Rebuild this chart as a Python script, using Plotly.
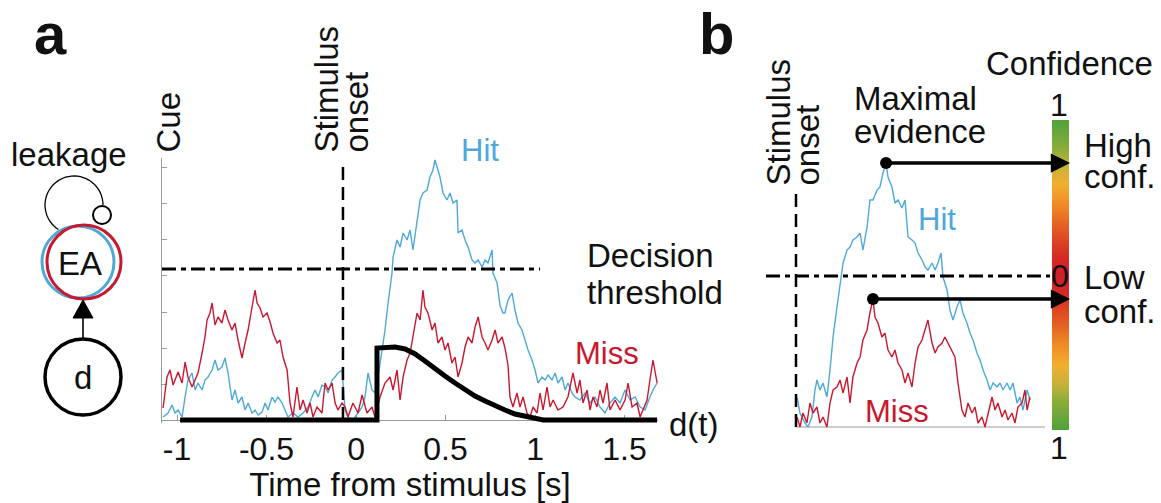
import math
import plotly.graph_objects as go

# ---------------- data ----------------
# Panel a: evidence accumulator traces (time in s, evidence in arbitrary units)
HIT_A_T = [-1.078, -1.050, -1.028, -1.011, -0.994, -0.972, -0.955, -0.939, -0.916, -0.899,
           -0.883, -0.860, -0.844, -0.827, -0.804, -0.788, -0.771, -0.749, -0.732, -0.715,
           -0.693, -0.676, -0.659, -0.637, -0.620, -0.603, -0.581, -0.564, -0.547, -0.525,
           -0.508, -0.492, -0.469, -0.453, -0.436, -0.413, -0.397, -0.380, -0.352, -0.324,
           -0.296, -0.268, -0.246, -0.229, -0.212, -0.190, -0.173, -0.156, -0.134, -0.117,
           -0.101, -0.078, -0.073, -0.061, -0.045, -0.017, 0.011, 0.034, 0.050, 0.067,
           0.089, 0.106, 0.123, 0.145, 0.162, 0.179, 0.201, 0.207, 0.229, 0.246,
           0.263, 0.285, 0.302, 0.318, 0.341, 0.358, 0.374, 0.397, 0.413, 0.430,
           0.441, 0.453, 0.469, 0.486, 0.508, 0.525, 0.542, 0.564, 0.570, 0.592,
           0.609, 0.626, 0.648, 0.665, 0.682, 0.704, 0.721, 0.737, 0.760, 0.765,
           0.788, 0.804, 0.821, 0.832, 0.849, 0.872, 0.888, 0.905, 0.927, 0.944,
           0.961, 0.983, 1.000, 1.017, 1.039, 1.056, 1.073, 1.095, 1.112, 1.128,
           1.151, 1.168, 1.184, 1.207, 1.223, 1.251, 1.279, 1.307, 1.335, 1.363,
           1.391, 1.419, 1.447, 1.475, 1.503, 1.531, 1.559, 1.587, 1.615, 1.642,
           1.659, 1.682]
HIT_A_Y = [3, 7, 15, 7, 10, 3, 23, 40, 47, 30,
           37, 30, 40, 43, 50, 60, 50, 53, 62, 47,
           20, 30, 17, 23, 10, 17, 7, 10, 5, 8,
           17, 10, 23, 18, 23, 17, 10, 3, 7, 3,
           7, 13, 23, 30, 23, 35, 33, 27, 40, 43,
           47, 50, 37, 10, 3, 0, 7, 13, 23, 47,
           30, 27, 43, 70, 90, 117, 147, 163, 180, 173,
           187, 180, 190, 170, 197, 220, 227, 230, 243, 250,
           260, 253, 243, 227, 220, 227, 217, 220, 187, 190,
           180, 173, 160, 157, 160, 153, 160, 157, 170, 147,
           137, 115, 107, 107, 120, 127, 110, 97, 90, 80,
           70, 60, 50, 37, 43, 40, 45, 40, 47, 37,
           43, 30, 37, 27, 23, 20, 27, 17, 23, 13,
           7, 17, 23, 17, 30, 20, 23, 13, 10, 23,
           30, 37]

MISS_A_T = [-1.078, -1.056, -1.039, -1.022, -0.994, -0.972, -0.955, -0.939, -0.916, -0.899,
            -0.883, -0.860, -0.844, -0.832, -0.816, -0.804, -0.788, -0.771, -0.749, -0.732,
            -0.715, -0.693, -0.676, -0.659, -0.637, -0.620, -0.603, -0.581, -0.564, -0.553,
            -0.536, -0.520, -0.497, -0.480, -0.464, -0.441, -0.425, -0.408, -0.385, -0.369,
            -0.352, -0.330, -0.313, -0.296, -0.274, -0.257, -0.240, -0.218, -0.190, -0.173,
            -0.156, -0.134, -0.117, -0.101, -0.078, -0.061, -0.045, -0.017, 0.011, 0.034,
            0.061, 0.089, 0.106, 0.134, 0.162, 0.190, 0.207, 0.229, 0.246, 0.263,
            0.285, 0.302, 0.318, 0.341, 0.358, 0.374, 0.385, 0.402, 0.425, 0.441,
            0.458, 0.480, 0.497, 0.514, 0.536, 0.553, 0.570, 0.592, 0.609, 0.626,
            0.648, 0.665, 0.682, 0.704, 0.721, 0.737, 0.760, 0.777, 0.793, 0.816,
            0.832, 0.849, 0.860, 0.877, 0.899, 0.916, 0.933, 0.955, 0.972, 0.989,
            1.011, 1.028, 1.045, 1.067, 1.084, 1.101, 1.128, 1.156, 1.184, 1.212,
            1.235, 1.251, 1.268, 1.291, 1.307, 1.324, 1.346, 1.363, 1.380, 1.402,
            1.419, 1.447, 1.475, 1.503, 1.520, 1.542, 1.570, 1.587, 1.603, 1.626,
            1.642, 1.659, 1.682]
MISS_A_Y = [12, 43, 50, 35, 48, 37, 58, 43, 33, 40,
            47, 67, 83, 100, 107, 117, 95, 103, 97, 110,
            100, 90, 97, 80, 62, 77, 90, 113, 130, 117,
            112, 103, 107, 98, 87, 77, 80, 63, 50, 17,
            3, 33, 10, 20, 7, 17, 3, 13, 7, 37,
            30, 37, 17, 10, 17, 13, 3, 17, 7, 25,
            7, 13, 3, 23, 37, 43, 30, 50, 20, 43,
            60, 67, 83, 107, 100, 130, 113, 107, 90, 97,
            77, 83, 70, 77, 57, 63, 43, 57, 73, 83,
            77, 93, 103, 83, 77, 70, 80, 90, 77, 83,
            72, 55, 23, 13, 27, 13, 23, 7, 3, 13,
            7, 27, 10, 33, 13, 20, 10, 13, 23, 47,
            27, 40, 17, 30, 10, 23, 13, 30, 17, 37,
            10, 20, 10, 20, 37, 13, 17, 3, 10, 20,
            40, 60, 37]

# stimulus drive d(t)
D_T = [-0.983, 0.117, 0.117, 0.162, 0.218, 0.274, 0.330, 0.385, 0.441, 0.497, 0.553,
       0.609, 0.665, 0.721, 0.777, 0.832, 0.888, 0.944, 1.000, 1.045, 1.682]
D_Y = [0, 0, 72, 73, 73, 71, 66, 59, 51, 44, 37, 30, 24, 19, 14, 10, 6, 4, 2, 0, 0]

THRESHOLD = 151
STIM_ONSET_A = -0.073

# Panel b: same kind of traces, time from stimulus onset
HIT_B_T = [0.006, 0.022, 0.050, 0.067, 0.089, 0.106, 0.117, 0.134, 0.151, 0.173,
           0.190, 0.207, 0.229, 0.246, 0.263, 0.285, 0.302, 0.318, 0.341, 0.358,
           0.374, 0.397, 0.413, 0.430, 0.453, 0.469, 0.486, 0.503, 0.514, 0.536,
           0.553, 0.570, 0.592, 0.609, 0.626, 0.648, 0.665, 0.682, 0.704, 0.721,
           0.737, 0.760, 0.777, 0.793, 0.810, 0.821, 0.844, 0.860, 0.877, 0.899,
           0.916, 0.933, 0.955, 0.972, 0.989, 1.011, 1.028, 1.045, 1.067, 1.084,
           1.101, 1.123, 1.140, 1.156, 1.179, 1.196, 1.212, 1.235, 1.251, 1.268,
           1.291, 1.307]
HIT_B_Y = [30, 14, 4, 0, 10, 37, 47, 37, 44, 30,
           57, 90, 120, 144, 164, 177, 180, 187, 190, 194,
           177, 200, 227, 227, 237, 240, 254, 264, 250, 240,
           224, 227, 219, 227, 190, 187, 184, 174, 167, 160,
           157, 164, 157, 164, 174, 150, 137, 117, 107, 120,
           127, 114, 104, 94, 87, 74, 67, 57, 47, 37,
           44, 40, 44, 37, 44, 37, 44, 24, 30, 17,
           37, 27]

MISS_B_T = [0.006, 0.022, 0.039, 0.061, 0.078, 0.095, 0.117, 0.134, 0.151, 0.173,
            0.190, 0.207, 0.229, 0.246, 0.263, 0.285, 0.302, 0.318, 0.341, 0.358,
            0.374, 0.397, 0.413, 0.430, 0.441, 0.458, 0.480, 0.497, 0.514, 0.536,
            0.553, 0.570, 0.592, 0.609, 0.626, 0.648, 0.665, 0.682, 0.704, 0.721,
            0.737, 0.760, 0.777, 0.793, 0.816, 0.832, 0.849, 0.872, 0.888, 0.905,
            0.927, 0.944, 0.961, 0.983, 1.000, 1.017, 1.039, 1.056, 1.073, 1.095,
            1.112, 1.128, 1.151, 1.168, 1.184, 1.207, 1.223, 1.240, 1.263, 1.279,
            1.291, 1.307]
MISS_B_Y = [10, 0, 14, 4, 24, 14, 20, 4, 10, 0,
            24, 37, 40, 47, 34, 50, 24, 50, 64, 70,
            87, 97, 114, 128, 110, 104, 90, 94, 77, 70,
            77, 64, 57, 44, 54, 40, 64, 80, 87, 97,
            107, 84, 74, 80, 84, 90, 84, 77, 70, 44,
            17, 10, 24, 14, 20, 4, 10, 0, 14, 30,
            17, 24, 10, 17, 7, 14, 4, 20, 24, 37,
            17, 30]

TICK_VALS = [-1, -0.5, 0, 0.5, 1, 1.5]
TICK_LABELS = ["-1", "-0.5", "0", "0.5", "1", "1.5"]
Y_TICKS = [0, 36, 72, 108, 145, 181, 217, 253]

CONF_LABELS = ["1", "0", "1"]
# confidence colour stops (confidence level -> colour)
CONF_STOPS = [(0.0, "#cf1f2a"), (0.12, "#d42a24"), (0.30, "#e35a22"), (0.45, "#ef8a25"),
              (0.58, "#f2ae2e"), (0.70, "#c9b23a"), (0.82, "#8aac3a"), (1.0, "#4fa23a")]

# ---------------- styling ----------------
W, H = 1161, 503
BLUE = "#4ea9d8"
RED = "#c8182f"
INK = "#111111"
GRAY = "#9a9a9a"
FONT = "Liberation Sans, Arial, Helvetica, sans-serif"
FS = 33


def fx(p):
    return p / W


def fy(p):
    return 1 - p / H


fig = go.Figure()

# panel a traces
fig.add_trace(go.Scatter(x=HIT_A_T, y=HIT_A_Y, mode="lines",
                         line=dict(color=BLUE, width=1.4), xaxis="x", yaxis="y"))
fig.add_trace(go.Scatter(x=MISS_A_T, y=MISS_A_Y, mode="lines",
                         line=dict(color=RED, width=1.4), xaxis="x", yaxis="y"))
fig.add_trace(go.Scatter(x=D_T, y=D_Y, mode="lines",
                         line=dict(color="black", width=5), xaxis="x", yaxis="y"))

# panel b traces
fig.add_trace(go.Scatter(x=HIT_B_T, y=HIT_B_Y, mode="lines",
                         line=dict(color=BLUE, width=1.4), xaxis="x2", yaxis="y2"))
fig.add_trace(go.Scatter(x=MISS_B_T, y=MISS_B_Y, mode="lines",
                         line=dict(color=RED, width=1.4), xaxis="x2", yaxis="y2"))

hi = max(range(len(HIT_B_Y)), key=lambda i: HIT_B_Y[i])
mi = max(range(len(MISS_B_Y)), key=lambda i: MISS_B_Y[i])
peaks_t = [HIT_B_T[hi], MISS_B_T[mi]]
peaks_y = [HIT_B_Y[hi], MISS_B_Y[mi]]
fig.add_trace(go.Scatter(x=peaks_t, y=peaks_y, mode="markers",
                         marker=dict(color="black", size=12), xaxis="x2", yaxis="y2"))

# confidence colour scale (symmetric: 1 at both ends, 0 in the middle)
cs = []
for c, col in reversed(CONF_STOPS):
    cs.append([0.5 - c / 2, col])
for c, col in CONF_STOPS[1:]:
    cs.append([0.5 + c / 2, col])
fig.add_trace(go.Scatter(
    x=[None, None], y=[None, None], mode="markers", xaxis="x2", yaxis="y2",
    marker=dict(color=[-1, 1], cmin=-1, cmax=1, colorscale=cs, showscale=True,
                colorbar=dict(x=fx(1052), xanchor="left", y=fy(275), yanchor="middle",
                              len=310 / H, lenmode="fraction", thickness=17,
                              xpad=0, ypad=0, outlinewidth=0, ticks="",
                              showticklabels=False))))

shapes = []
# threshold & onset lines, panel a
shapes.append(dict(type="line", xref="x", yref="y", x0=-1.084, x1=1.028,
                   y0=THRESHOLD, y1=THRESHOLD,
                   line=dict(color="black", width=3, dash="14px,5px,5px,5px")))
shapes.append(dict(type="line", xref="x", yref="y", x0=STIM_ONSET_A, x1=STIM_ONSET_A,
                   y0=0, y1=257, line=dict(color="black", width=2.5, dash="13px,7px")))
# panel b
shapes.append(dict(type="line", xref="x2", yref="y2", x0=0, x1=1.391, y0=0, y1=0,
                   line=dict(color=GRAY, width=1.2), layer="below"))
shapes.append(dict(type="line", xref="paper", yref="y2", x0=fx(766), x1=fx(1050),
                   y0=THRESHOLD, y1=THRESHOLD,
                   line=dict(color="black", width=3, dash="14px,5px,5px,5px")))
shapes.append(dict(type="line", xref="x2", yref="y2", x0=0, x1=0, y0=0, y1=234,
                   line=dict(color="black", width=2.5, dash="13px,7px")))


def circle(cx, cy, r, color, width, fill="rgba(0,0,0,0)"):
    return dict(type="circle", xref="paper", yref="paper",
                x0=fx(cx - r), x1=fx(cx + r), y0=fy(cy + r), y1=fy(cy - r),
                line=dict(color=color, width=width), fillcolor=fill)


# model diagram
arc = []
for k in range(41):
    th = math.radians(122.6 + (360 - 122.6) * k / 40)
    arc.append((74 + 29 * math.cos(th), 205 + 29 * math.sin(th)))
shapes.append(dict(type="path", xref="paper", yref="paper",
                   path="M " + " L ".join(f"{fx(a):.5f},{fy(b):.5f}" for a, b in arc),
                   line=dict(color="black", width=1.3)))
shapes.append(circle(102, 215, 9, "black", 2, "white"))
shapes.append(circle(78, 262, 36, BLUE, 3))
shapes.append(circle(84, 262, 37, RED, 3))
shapes.append(dict(type="line", xref="paper", yref="paper", x0=fx(83), x1=fx(83),
                   y0=fy(339), y1=fy(316), line=dict(color="black", width=1.6)))
shapes.append(dict(type="path", xref="paper", yref="paper",
                   path=f"M {fx(83)},{fy(300)} L {fx(73)},{fy(318)} L {fx(93)},{fy(318)} Z",
                   fillcolor="black", line=dict(color="black", width=1)))
shapes.append(circle(83, 377, 38, "black", 3.5))

anns = []


def ann(text, x, y, size=FS, color=INK, xa="center", ya="middle", angle=0, bold=False):
    anns.append(dict(text=f"<b>{text}</b>" if bold else text, x=fx(x), y=fy(y),
                     xref="paper", yref="paper", showarrow=False, xanchor=xa,
                     yanchor=ya, textangle=angle,
                     font=dict(family=FONT, size=size, color=color)))


ann("a", 50, 34, size=58, bold=True)
ann("b", 716, 33, size=58, bold=True)
ann("leakage", 69, 154)
ann("EA", 80, 263)
ann("d", 83, 377)
ann("Cue", 168, 155, ya="bottom", angle=-90)
ann("Stimulus", 326, 155, ya="bottom", angle=-90)
ann("onset", 356, 155, ya="bottom", angle=-90)
ann("Hit", 480, 150, size=31, color=BLUE)
ann("Miss", 607, 353, size=31, color=RED)
ann("Decision", 585, 256, xa="left")
ann("threshold", 585, 292, xa="left")
ann("d(t)", 694, 424)
ann("Stimulus", 778, 188, ya="bottom", angle=-90)
ann("onset", 807, 188, ya="bottom", angle=-90)
ann("Maximal", 852, 99, xa="left")
ann("evidence", 852, 131, xa="left")
ann("Confidence", 1069, 64)
ann(CONF_LABELS[0], 1059, 105, size=32)
ann(CONF_LABELS[1], 1060, 276, size=32)
ann(CONF_LABELS[2], 1059, 448, size=32)
ann("High", 1082, 146, xa="left")
ann("conf.", 1082, 177, xa="left")
ann("Low", 1082, 277, xa="left")
ann("conf.", 1082, 311, xa="left")
ann("Hit", 937, 219, size=31, color=BLUE)
ann("Miss", 897, 411, size=31, color=RED)

ARROW_TIP_T = 1.531
for t, v in zip(peaks_t, peaks_y):
    anns.append(dict(text="", x=ARROW_TIP_T, y=v, xref="x2", yref="y2",
                     ax=t, ay=v, axref="x2", ayref="y2", showarrow=True,
                     arrowhead=2, arrowsize=1.1, arrowwidth=3.5, arrowcolor="black",
                     standoff=0, startstandoff=0))

fig.update_layout(
    width=W, height=H, autosize=False,
    margin=dict(l=0, r=0, t=0, b=0),
    paper_bgcolor="white", plot_bgcolor="rgba(0,0,0,0)",
    showlegend=False,
    font=dict(family=FONT, color=INK),
    xaxis=dict(domain=[fx(162), fx(658)], range=[-1.084, 1.687], anchor="free",
               position=fy(420), showline=True, linecolor=GRAY, linewidth=1.2,
               ticks="inside", ticklen=5, tickcolor=GRAY, tickvals=TICK_VALS,
               ticktext=TICK_LABELS, tickfont=dict(size=32, color=INK, family=FONT),
               showgrid=False, zeroline=False, layer="below traces",
               title=dict(text="Time from stimulus [s]", standoff=2,
                          font=dict(size=FS, color=INK, family=FONT))),
    yaxis=dict(domain=[fy(423), fy(158)], range=[-3, 262], anchor="x",
               showline=True, linecolor=GRAY, linewidth=1.2, ticks="inside",
               ticklen=5, tickcolor=GRAY, tickvals=Y_TICKS, showticklabels=False,
               showgrid=False, zeroline=False, layer="below traces"),
    xaxis2=dict(domain=[fx(792), fx(1045)], range=[-0.0223, 1.391], anchor="y2",
                visible=False),
    yaxis2=dict(domain=[fy(431), fy(150)], range=[-4, 277], anchor="x2",
                visible=False),
    shapes=shapes,
    annotations=anns,
)

fig.write_html("out.html",
               config={"displayModeBar": False},
               post_script="document.body.style.margin='0px';"
                           "document.body.style.overflow='hidden';")
